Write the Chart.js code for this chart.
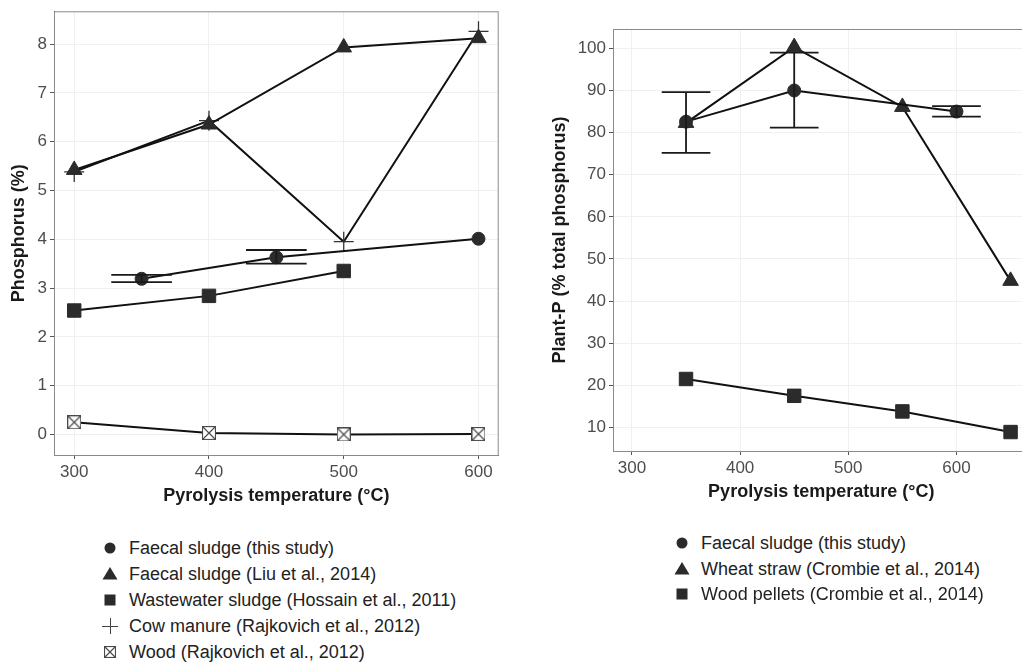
<!DOCTYPE html>
<html>
<head>
<meta charset="utf-8">
<script src="https://cdn.jsdelivr.net/npm/chart.js@4/dist/chart.umd.min.js"></script>
<style>
  html, body { margin: 0; padding: 0; width: 1022px; height: 662px; overflow: hidden; background: #fff; font-family: "Liberation Sans", Arial, sans-serif; }
  #leftBox { position: absolute; left: 0; top: 0; width: 510px; height: 520px; }
  #rightBox { position: absolute; left: 540px; top: 0; width: 500px; height: 520px; }
  .legend { position: absolute; font-size: 18px; color: #222; }
  .legend .item { position: absolute; left: 0; white-space: nowrap; }
  .legend canvas { position: absolute; left: 0; top: 0; }
  .legend span { position: absolute; top: 0; }
</style>
</head>
<body>
<div id="leftBox"><canvas id="chartLeft"></canvas></div>
<div id="rightBox"><canvas id="chartRight"></canvas></div>
<div class="legend" id="legendLeft" style="left:100px; top:535px;"></div>
<div class="legend" id="legendRight" style="left:672px; top:530px;"></div>
<script>
// ---- data: left panel (total phosphorus) ----
const xTicks = [300, 400, 500, 600];
const leftYTicks = [0, 1, 2, 3, 4, 5, 6, 7, 8];

const fsStudyTemps = [350, 450, 600];
const fsStudyP = [3.19, 3.63, 4.01];
const fsStudyLow = [3.12, 3.50, null];
const fsStudyHigh = [3.27, 3.78, null];

const liuTemps = [300, 400, 500, 600];
const liuP = [5.42, 6.35, 7.93, 8.12];

const hossainTemps = [300, 400, 500];
const hossainP = [2.54, 2.84, 3.35];

const cowTemps = [300, 400, 500, 600];
const cowP = [5.38, 6.43, 3.95, 8.26];

const woodTemps = [300, 400, 500, 600];
const woodP = [0.25, 0.03, 0.0, 0.01];

// ---- data: right panel (plant-available P) ----
const rightYTicks = [10, 20, 30, 40, 50, 60, 70, 80, 90, 100];

const plantStudyTemps = [350, 450, 600];
const plantStudyP = [82.6, 90.0, 85.0];
const plantStudyLow = [75.2, 81.2, 83.8];
const plantStudyHigh = [89.6, 99.0, 86.3];

const wheatTemps = [350, 450, 550, 650];
const wheatP = [82.3, 100.3, 86.1, 44.8];

const pelletTemps = [350, 450, 550, 650];
const pelletP = [21.5, 17.5, 13.8, 8.9];

const leftLabels = [
  'Faecal sludge (this study)',
  'Faecal sludge (Liu et al., 2014)',
  'Wastewater sludge (Hossain et al., 2011)',
  'Cow manure (Rajkovich et al., 2012)',
  'Wood (Rajkovich et al., 2012)'
];
const rightLabels = [
  'Faecal sludge (this study)',
  'Wheat straw (Crombie et al., 2014)',
  'Wood pellets (Crombie et al., 2014)'
];

const capWidth = 45; // error bar cap width, in °C
const markColor = '#2b2b2b';
const fontFamily = '"Liberation Sans", Arial, sans-serif';
Chart.defaults.font.family = fontFamily;

function pts(xs, ys) {
  return xs.map((x, i) => ({ x: x, y: ys[i] }));
}

// crossed box marker used for "Wood"
function makeBoxX(size) {
  const c = document.createElement('canvas');
  c.width = size; c.height = size;
  const g = c.getContext('2d');
  g.fillStyle = '#fff';
  g.fillRect(0.5, 0.5, size - 1, size - 1);
  g.strokeStyle = '#4a4a4a';
  g.lineWidth = 1.2;
  g.strokeRect(0.5, 0.5, size - 1, size - 1);
  g.beginPath();
  g.moveTo(1, 1); g.lineTo(size - 1, size - 1);
  g.moveTo(size - 1, 1); g.lineTo(1, size - 1);
  g.stroke();
  return c;
}
const boxX = makeBoxX(14);

function series(label, xs, ys, style, radius, extra) {
  return Object.assign({
    label: label,
    data: pts(xs, ys),
    borderColor: '#111',
    borderWidth: 2,
    pointStyle: style,
    pointRadius: radius,
    pointBackgroundColor: markColor,
    pointBorderColor: markColor,
    pointBorderWidth: 1,
    tension: 0,
    fill: false
  }, extra || {});
}

const errorBars = {
  id: 'errorBars',
  afterDatasetsDraw(chart) {
    const ctx = chart.ctx, xs = chart.scales.x, ys = chart.scales.y;
    chart.data.datasets.forEach(ds => {
      if (!ds.errLow) return;
      ctx.save();
      ctx.strokeStyle = '#1a1a1a';
      ctx.lineWidth = 1.8;
      ds.data.forEach((p, i) => {
        const lo = ds.errLow[i], hi = ds.errHigh[i];
        if (lo == null || hi == null) return;
        const px = xs.getPixelForValue(p.x);
        const xl = xs.getPixelForValue(p.x - capWidth / 2);
        const xr = xs.getPixelForValue(p.x + capWidth / 2);
        const yl = ys.getPixelForValue(lo), yh = ys.getPixelForValue(hi);
        ctx.beginPath();
        ctx.moveTo(px, yl); ctx.lineTo(px, yh);
        ctx.moveTo(xl, yl); ctx.lineTo(xr, yl);
        ctx.moveTo(xl, yh); ctx.lineTo(xr, yh);
        ctx.stroke();
      });
      ctx.restore();
    });
  }
};

const panelFrame = {
  id: 'panelFrame',
  beforeDatasetsDraw(chart) {
    const a = chart.chartArea, ctx = chart.ctx;
    ctx.save();
    ctx.strokeStyle = '#8a8a8a';
    ctx.lineWidth = 1;
    ctx.strokeRect(a.left + 0.5, a.top + 0.5, a.right - a.left - 1, a.bottom - a.top);
    ctx.restore();
  }
};

function makeOptions(o) {
  return {
    responsive: true,
    maintainAspectRatio: false,
    animation: false,
    layout: { padding: o.padding },
    plugins: { legend: { display: false }, tooltip: { enabled: false } },
    scales: {
      x: {
        type: 'linear', min: o.xMin, max: o.xMax,
        afterBuildTicks: s => { s.ticks = xTicks.map(v => ({ value: v })); },
        afterFit: s => { s.height = o.xHeight; s.paddingLeft = 0; s.paddingRight = 0; },
        grid: { color: '#f0f0f0', tickColor: '#555', tickLength: 4 },
        border: { color: '#555', width: 1 },
        ticks: { color: '#4d4d4d', font: { size: 17 }, padding: 3, maxRotation: 0 },
        title: { display: true, text: 'Pyrolysis temperature (°C)', color: '#1a1a1a',
                 font: { size: 18, weight: 'bold' }, padding: { top: 0, bottom: 0 } }
      },
      y: {
        type: 'linear', min: o.yMin, max: o.yMax,
        afterBuildTicks: s => { s.ticks = o.yTicks.map(v => ({ value: v })); },
        afterFit: s => { s.width = o.yWidth; s.paddingTop = 0; s.paddingBottom = 0; },
        grid: { color: '#f0f0f0', tickColor: '#555', tickLength: 4 },
        border: { color: '#555', width: 1 },
        ticks: { color: '#4d4d4d', font: { size: 17 }, padding: 3 },
        title: { display: true, text: o.yTitle, color: '#1a1a1a',
                 font: { size: 18, weight: 'bold' }, padding: { top: o.yTitlePad, bottom: 0 } }
      }
    }
  };
}

new Chart(document.getElementById('chartLeft'), {
  type: 'line',
  data: {
    datasets: [
      series(leftLabels[0], fsStudyTemps, fsStudyP, 'circle', 6.5, { errLow: fsStudyLow, errHigh: fsStudyHigh }),
      series(leftLabels[1], liuTemps, liuP, 'triangle', 9),
      series(leftLabels[2], hossainTemps, hossainP, 'rect', 9.5),
      series(leftLabels[3], cowTemps, cowP, 'cross', 10, { pointBorderColor: '#333', pointBorderWidth: 1.3 }),
      series(leftLabels[4], woodTemps, woodP, boxX, 7)
    ]
  },
  options: makeOptions({
    padding: { top: 7, right: 8, left: 0, bottom: 13 },
    xMin: 285, xMax: 615, xHeight: 52,
    yMin: -0.42, yMax: 8.67, yTicks: leftYTicks, yWidth: 54,
    yTitle: 'Phosphorus (%)', yTitlePad: 8
  }),
  plugins: [panelFrame, errorBars]
});

new Chart(document.getElementById('chartRight'), {
  type: 'line',
  data: {
    datasets: [
      series(rightLabels[0], plantStudyTemps, plantStudyP, 'circle', 6.5, { errLow: plantStudyLow, errHigh: plantStudyHigh }),
      series(rightLabels[1], wheatTemps, wheatP, 'triangle', 9),
      series(rightLabels[2], pelletTemps, pelletP, 'rect', 9.5)
    ]
  },
  options: makeOptions({
    padding: { top: 29, right: 6, left: 0, bottom: 17 },
    xMin: 282.5, xMax: 667.5, xHeight: 52,
    yMin: 4.4, yMax: 104.6, yTicks: rightYTicks, yWidth: 73,
    yTitle: 'Plant-P (% total phosphorus)', yTitlePad: 9
  }),
  plugins: [panelFrame, errorBars]
});

// ---- legends (HTML text, symbols drawn on small canvases) ----
function drawSymbol(g, style, x, y) {
  g.fillStyle = markColor;
  g.strokeStyle = '#444';
  g.beginPath();
  if (style === 'circle') {
    g.arc(x, y, 5.5, 0, Math.PI * 2); g.fill();
  } else if (style === 'triangle') {
    g.moveTo(x, y - 7); g.lineTo(x + 7.5, y + 5.5); g.lineTo(x - 7.5, y + 5.5); g.closePath(); g.fill();
  } else if (style === 'rect') {
    g.fillRect(x - 5.5, y - 5.5, 11, 11);
  } else if (style === 'cross') {
    g.lineWidth = 1;
    g.moveTo(x - 8, y + 0.5); g.lineTo(x + 8, y + 0.5);
    g.moveTo(x + 0.5, y - 8); g.lineTo(x + 0.5, y + 8); g.stroke();
  } else if (style === 'boxx') {
    g.drawImage(makeBoxX(12), x - 6, y - 6);
  }
}

function buildLegend(id, labels, styles, rowH) {
  const box = document.getElementById(id);
  labels.forEach((label, i) => {
    const item = document.createElement('div');
    item.className = 'item';
    item.style.top = (i * rowH) + 'px';
    item.style.height = rowH + 'px';
    const c = document.createElement('canvas');
    c.width = 22; c.height = 26;
    drawSymbol(c.getContext('2d'), styles[i], 10, 13);
    const t = document.createElement('span');
    t.textContent = label;
    t.style.left = '29px';
    t.style.lineHeight = '26px';
    item.appendChild(c);
    item.appendChild(t);
    box.appendChild(item);
  });
}

buildLegend('legendLeft', leftLabels, ['circle', 'triangle', 'rect', 'cross', 'boxx'], 26);
buildLegend('legendRight', rightLabels, ['circle', 'triangle', 'rect'], 25.5);
</script>
</body>
</html>
